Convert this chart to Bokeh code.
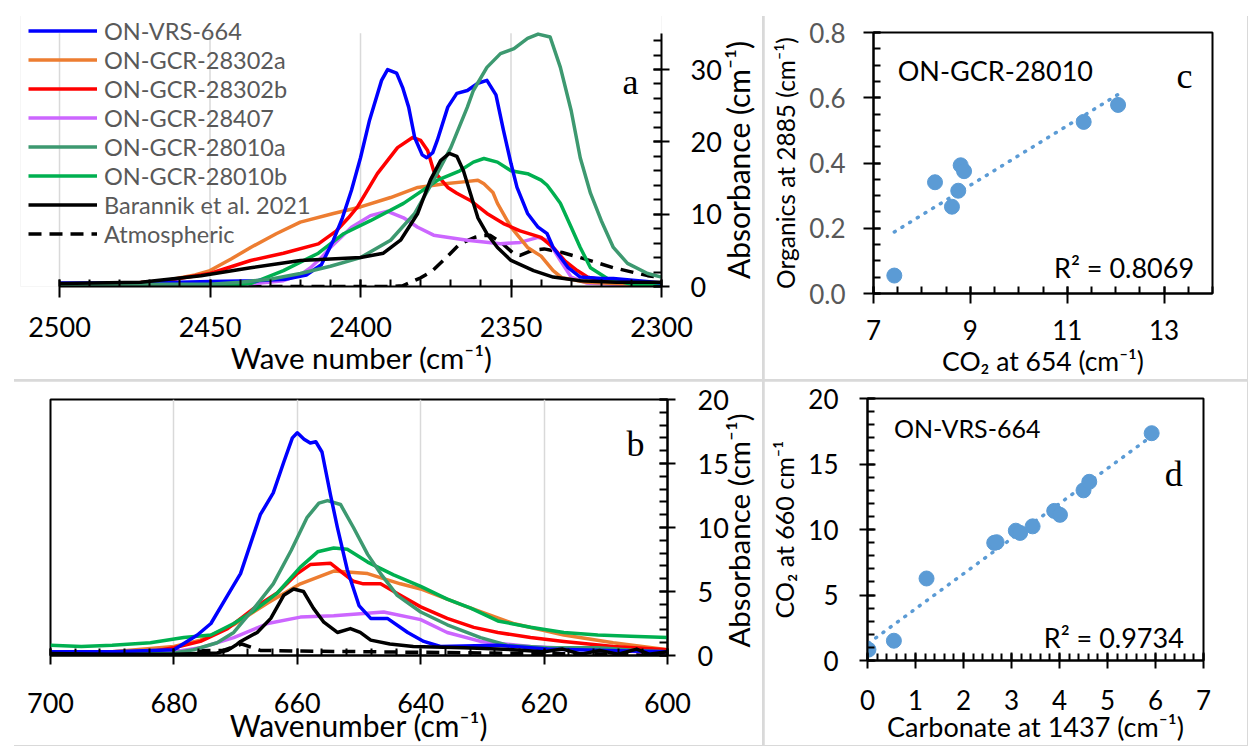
from bokeh.plotting import figure
from bokeh.models import Range1d, FixedTicker, Legend, LegendItem, Label, PrintfTickFormatter, Div
from bokeh.embed import file_html
from bokeh.resources import INLINE
import numpy as np

FONT = "Lato"
SERIF = "Liberation Serif"

# ---------------- Panel a data (wave number, absorbance) ----------------
a_blue_x = [2500, 2480, 2460, 2450, 2435, 2425, 2418, 2413, 2409, 2406, 2403, 2400, 2397, 2393, 2391, 2388, 2386, 2384, 2382, 2379.5, 2378, 2376, 2374.5, 2371, 2368, 2364.5, 2361, 2358, 2355, 2352.5, 2350, 2348, 2344.5, 2341, 2338, 2336, 2331, 2327, 2320, 2316, 2305, 2300]
a_blue_y = [0.5, 0.5, 0.6, 0.7, 0.8, 1.0, 1.6, 3.0, 6.4, 9.5, 13.3, 17.8, 23.0, 28.5, 30.0, 29.5, 27.5, 24.8, 20.6, 18.2, 17.8, 18.5, 20.2, 24.8, 26.7, 27.1, 28.1, 28.5, 26.5, 21.6, 17.0, 13.7, 10.1, 8.2, 7.3, 5.4, 2.6, 1.3, 1.1, 1.1, 0.7, 0.5]
a_orange_x = [2500, 2480, 2465, 2455, 2450, 2443, 2436.5, 2428, 2420, 2409, 2400, 2390, 2381, 2372, 2365, 2361, 2359, 2356, 2354.5, 2350, 2344.5, 2340, 2336, 2333, 2325, 2310, 2300]
a_orange_y = [0.2, 0.3, 0.8, 1.6, 2.2, 3.8, 5.4, 7.3, 8.9, 10.1, 11.0, 12.3, 13.7, 14.2, 14.5, 14.7, 14.2, 13.0, 11.5, 8.2, 5.4, 4.2, 2.2, 1.2, 0.6, 0.3, 0.2]
a_red_x = [2500, 2480, 2465, 2450, 2436.5, 2425.6, 2414, 2408, 2404, 2401, 2394.4, 2387.7, 2382.7, 2380, 2377.7, 2375.7, 2371, 2368, 2363.5, 2358, 2352.5, 2347, 2340, 2336, 2332, 2328, 2324.6, 2318, 2310, 2300]
a_red_y = [0.1, 0.3, 0.8, 1.8, 3.6, 4.6, 5.9, 7.7, 9.5, 11.0, 15.6, 19.2, 20.6, 20.2, 18.8, 16.0, 13.7, 12.9, 11.9, 10.1, 8.7, 7.7, 6.8, 5.4, 3.5, 2.2, 1.3, 0.8, 0.6, 0.4]
a_purple_x = [2500, 2470, 2450, 2435, 2425.6, 2420, 2416.6, 2413, 2410, 2403, 2396.7, 2391, 2385.7, 2381, 2375.7, 2364.5, 2353.5, 2347, 2341, 2338, 2336, 2333.6, 2330, 2325, 2310, 2300]
a_purple_y = [0.0, 0.1, 0.1, 0.4, 0.8, 1.6, 2.6, 4.0, 5.4, 8.2, 9.8, 10.4, 9.5, 8.2, 7.1, 6.4, 5.9, 6.1, 6.8, 6.4, 5.2, 3.6, 1.3, 0.5, 0.2, 0.1]
a_dkgreen_x = [2500, 2470, 2450, 2440, 2430, 2420, 2410, 2400, 2390, 2382, 2375.7, 2370, 2364.5, 2362.5, 2358, 2353.5, 2349, 2344.5, 2341, 2337, 2333.6, 2330, 2327, 2323.6, 2320, 2316, 2311.3, 2304.6, 2300]
a_dkgreen_y = [0.3, 0.3, 0.3, 0.6, 1.0, 1.8, 2.8, 4.0, 6.4, 10.1, 14.7, 19.2, 24.8, 27.1, 30.3, 32.2, 32.9, 34.3, 34.9, 34.5, 30.3, 24.3, 17.8, 12.9, 9.1, 5.4, 3.2, 1.8, 1.3]
a_green_x = [2500, 2460, 2445, 2436.5, 2425.6, 2414, 2405.6, 2396.7, 2385.7, 2374.4, 2367, 2362.5, 2359, 2354.5, 2350, 2344.5, 2340, 2338, 2336, 2333.6, 2330, 2327, 2323.6, 2318, 2310, 2300]
a_green_y = [0.1, 0.1, 0.1, 0.4, 2.2, 4.6, 7.3, 9.1, 11.5, 14.7, 16.0, 17.2, 17.7, 17.2, 16.0, 15.6, 14.7, 14.0, 12.9, 11.5, 8.2, 5.4, 2.6, 1.1, 0.3, 0.1]
a_black_x = [2500, 2473, 2453, 2436.5, 2420, 2400, 2392.4, 2386.7, 2381, 2376.8, 2373.4, 2370.5, 2368, 2365.8, 2363.5, 2361, 2358, 2354.5, 2350, 2342.5, 2336, 2327, 2315, 2300]
a_black_y = [0.4, 0.6, 1.5, 2.6, 3.6, 4.0, 4.6, 6.4, 10.1, 14.7, 17.4, 18.4, 18.0, 16.0, 12.9, 9.5, 7.3, 5.4, 3.6, 2.2, 1.3, 0.8, 0.6, 0.6]
a_atm_x = [2500, 2400, 2390, 2386, 2380, 2376, 2371, 2367, 2362, 2360, 2357, 2353, 2349, 2347, 2343, 2339, 2333, 2327, 2316, 2304.6, 2300]
a_atm_y = [0.0, 0.0, 0.0, 0.1, 1.2, 2.2, 4.2, 5.9, 6.8, 7.0, 7.1, 6.0, 4.5, 4.3, 5.0, 5.2, 4.7, 4.0, 2.6, 1.5, 1.2]
a_xticks = [2500, 2450, 2400, 2350, 2300]
a_yticks = [0, 10, 20, 30]

# ---------------- Panel b data ----------------
b_blue_x = [700, 690, 680, 676.2, 674, 671.3, 669.2, 667.6, 666, 663.9, 662.2, 660.8, 660, 658.9, 657.9, 657, 656, 654.6, 653.5, 651.9, 650, 648.1, 645.4, 642.1, 639.5, 636.8, 627.5, 619.5, 610, 600]
b_blue_y = [0.3, 0.3, 0.45, 1.6, 2.5, 4.7, 6.4, 8.7, 11.0, 12.7, 15.1, 17.0, 17.4, 16.9, 16.6, 16.7, 15.9, 12.5, 10.0, 6.7, 3.9, 2.9, 2.9, 1.8, 1.1, 0.7, 0.8, 0.5, 0.4, 0.3]
b_dkgreen_x = [700, 690, 680, 676.8, 673, 670.3, 667, 663.9, 661, 658.4, 656.5, 655.1, 653, 650.9, 648.6, 646.5, 643.8, 640, 635.7, 630.3, 626, 619.5, 611.3, 605, 600]
b_dkgreen_y = [0.1, 0.1, 0.2, 0.45, 1.0, 1.8, 3.7, 5.6, 8.2, 10.8, 11.9, 12.1, 11.8, 10.0, 7.9, 6.4, 4.7, 3.4, 2.4, 1.4, 0.8, 0.6, 0.6, 0.4, 0.3]
b_green_x = [700, 695, 690, 683.8, 678.4, 674, 670.3, 667, 663.2, 659.5, 656.7, 654.1, 651.9, 648.6, 644.4, 640, 635.7, 631.9, 627.5, 622.2, 616.8, 611.3, 606, 600]
b_green_y = [0.8, 0.7, 0.8, 1.0, 1.4, 1.6, 2.5, 3.5, 4.9, 6.9, 8.1, 8.4, 8.3, 7.3, 6.3, 5.4, 4.4, 3.7, 2.7, 2.2, 1.8, 1.6, 1.5, 1.4]
b_red_x = [700, 690, 683.8, 680, 675.7, 671.3, 667, 663.2, 660, 657.9, 654.6, 652.5, 650.9, 649.3, 646.5, 643.3, 640, 635.7, 631.4, 627.5, 622.2, 616.8, 608.8, 600]
b_red_y = [0.1, 0.2, 0.3, 0.6, 1.1, 2.1, 3.7, 4.9, 6.4, 7.1, 7.2, 6.4, 5.8, 5.6, 5.6, 4.7, 3.8, 2.9, 2.2, 1.8, 1.4, 1.1, 0.7, 0.45]
b_orange_x = [700, 690, 680, 675.7, 670.3, 664.8, 659.5, 654.1, 648.6, 643.3, 640, 633, 625, 616.8, 608.8, 600]
b_orange_y = [0.2, 0.3, 0.7, 1.2, 2.4, 4.1, 5.6, 6.6, 6.4, 5.6, 5.2, 3.9, 2.5, 1.6, 1.0, 0.45]
b_purple_x = [700, 685, 680, 675.7, 670.3, 664.8, 659.5, 654.1, 646, 640, 635.7, 630.3, 622.2, 611.3, 600]
b_purple_y = [0.0, 0.1, 0.3, 0.6, 1.4, 2.5, 3.0, 3.1, 3.4, 2.8, 1.8, 1.1, 0.7, 0.45, 0.2]
b_black_x = [700, 690, 680, 673, 671.3, 670, 669.2, 666.5, 664.3, 662.2, 660.6, 659, 657.4, 655.7, 653.5, 651.4, 649.8, 648.1, 645, 641.2, 633, 625, 620, 617, 614, 611, 608, 605, 603, 600]
b_black_y = [0.15, 0.1, 0.1, 0.2, 0.4, 0.8, 1.1, 1.8, 2.9, 4.7, 5.2, 5.0, 3.7, 2.6, 1.8, 2.1, 1.8, 1.2, 0.9, 0.7, 0.6, 0.45, 0.3, 0.5, 0.1, 0.4, 0.1, 0.5, 0.1, 0.3]
b_atm_x = [700, 690, 680, 672, 669, 666, 660, 650, 640, 630, 620, 600]
b_atm_y = [0.2, 0.3, 0.35, 0.4, 0.9, 0.4, 0.35, 0.3, 0.25, 0.2, 0.15, 0.1]
b_xticks = [700, 680, 660, 640, 620, 600]
b_yticks = [0, 5, 10, 15, 20]

series_names = ["ON-VRS-664", "ON-GCR-28302a", "ON-GCR-28302b", "ON-GCR-28407",
                "ON-GCR-28010a", "ON-GCR-28010b", "Barannik et al. 2021", "Atmospheric"]
series_colors = ["#0000ff", "#ed7d31", "#ff0000", "#cc66ff", "#3d9970", "#00b050", "#000000", "#000000"]

# ---------------- Panel c data ----------------
c_x = [7.43, 8.27, 8.62, 8.75, 8.80, 8.87, 11.34, 12.05]
c_y = [0.055, 0.341, 0.266, 0.315, 0.393, 0.375, 0.526, 0.578]
c_tag = "ON-GCR-28010"
c_r2 = "R\u00b2 = 0.8069"

# ---------------- Panel d data ----------------
d_x = [0.02, 0.55, 1.23, 2.64, 2.69, 3.09, 3.18, 3.44, 3.89, 4.01, 4.50, 4.62, 5.92]
d_y = [0.83, 1.51, 6.26, 8.98, 9.03, 9.91, 9.74, 10.24, 11.42, 11.12, 12.99, 13.64, 17.35]
d_tag = "ON-VRS-664"
d_r2 = "R\u00b2 = 0.9734"

SUP = "(cm\u207b\u00b9)"
FSP = "\u2007"   # figure space, used to nudge a centred axis title
NBSP = "\u00a0"


def place(left, top):
    return {"position": "absolute", "left": f"{left}px", "top": f"{top}px"}


def style_axis(ax, size="27px", color="black", tin=7, tout=9, mtin=7):
    ax.axis_line_width = 2
    ax.axis_line_color = "black"
    ax.major_tick_line_width = 2
    ax.minor_tick_line_width = 2
    ax.major_tick_line_color = "black"
    ax.minor_tick_line_color = "black"
    ax.major_tick_in = tin
    ax.major_tick_out = tout
    ax.minor_tick_in = mtin
    ax.minor_tick_out = 0
    ax.major_label_text_font = FONT
    ax.major_label_text_font_size = size
    ax.major_label_text_color = color
    ax.axis_label_text_font = FONT
    ax.axis_label_text_font_style = "normal"
    ax.axis_label_text_color = "black"


def spectra_fig(w, h, xr, yr, borders, pos):
    p = figure(width=w, height=h, x_range=xr, y_range=yr, y_axis_location="right",
               output_backend="svg", toolbar_location=None, title=None,
               min_border_left=borders[0], min_border_right=borders[1],
               min_border_top=borders[2], min_border_bottom=borders[3],
               styles=place(*pos))
    p.background_fill_color = "white"
    p.border_fill_color = "white"
    p.ygrid.visible = False
    p.xgrid.grid_line_color = "#d9d9d9"
    p.xgrid.grid_line_width = 1.5
    return p


def side_title(text, size, pos, w, h, mtop, mbottom):
    # transparent strip whose left-hand axis carries a title reading upwards,
    # laid over the right-hand side of a spectra panel
    p = figure(width=w, height=h, x_range=Range1d(0, 1), y_range=Range1d(0, 1),
               output_backend="svg", toolbar_location=None, title=None,
               min_border_left=w - 7, min_border_right=0,
               min_border_top=mtop, min_border_bottom=mbottom, styles=place(*pos))
    p.xaxis.visible = False
    p.grid.visible = False
    p.outline_line_color = None
    p.background_fill_alpha = 0
    p.border_fill_alpha = 0
    ax = p.yaxis[0]
    ax.ticker = FixedTicker(ticks=[])
    ax.axis_line_color = None
    ax.major_tick_line_color = None
    ax.minor_tick_line_color = None
    ax.major_tick_in = 0
    ax.major_tick_out = 0
    ax.minor_tick_in = 0
    ax.minor_tick_out = 0
    ax.major_label_text_font_size = "0px"
    ax.major_label_standoff = 0
    ax.axis_label = text
    ax.axis_label_text_font = FONT
    ax.axis_label_text_font_style = "normal"
    ax.axis_label_text_font_size = size
    ax.axis_label_text_color = "black"
    ax.axis_label_standoff = 0
    return p


# ================= Panel a =================
# frame widened to the left/top so the legend (which sits left of 2500) is not clipped;
# axis bounds keep the visible axes at 2500-2300 and 0-35
pa = spectra_fig(751, 366, Range1d(2512.96, 2300), Range1d(0, 37.47), (9, 101, 2, 93), (11, 13))
pa.outline_line_color = None
pa.xgrid.visible = False
pa.segment(x0=a_xticks, y0=[0] * len(a_xticks), x1=a_xticks, y1=[35] * len(a_xticks),
           line_color="#d9d9d9", line_width=1.5)
pa.xaxis.ticker = FixedTicker(ticks=a_xticks, minor_ticks=list(range(2300, 2501, 10)))
pa.xaxis.bounds = (2300, 2500)
pa.yaxis.ticker = FixedTicker(ticks=a_yticks, minor_ticks=list(range(0, 36, 2)))
pa.yaxis.bounds = (0, 35)
style_axis(pa.xaxis[0], tin=7, tout=11)
style_axis(pa.yaxis[0], tin=8, tout=8, mtin=8)
pa.xaxis.axis_label = FSP + FSP + NBSP + "Wave number " + SUP
pa.xaxis.axis_label_text_font_size = "29.5px"
pa.xaxis.major_label_standoff = 19
pa.xaxis.axis_label_standoff = 0
pa.yaxis.major_label_standoff = 21

a_data = [(a_blue_x, a_blue_y), (a_orange_x, a_orange_y), (a_red_x, a_red_y), (a_purple_x, a_purple_y),
          (a_dkgreen_x, a_dkgreen_y), (a_green_x, a_green_y), (a_black_x, a_black_y), (a_atm_x, a_atm_y)]
order = [7, 3, 1, 2, 5, 0, 4, 6]
rends = {}
for i in order:
    xs, ys = a_data[i]
    dash = "13 8" if i == 7 else "solid"
    rends[i] = pa.line(xs, ys, line_color=series_colors[i], line_width=3.5, line_dash=dash, line_join="round")

legend = Legend(items=[LegendItem(label=series_names[i], renderers=[rends[i]]) for i in range(8)],
                location=(8, 38), orientation="vertical")
legend.label_text_font = FONT
legend.label_text_font_size = "23.5px"
legend.label_text_color = "#595959"
legend.glyph_width = 69
legend.glyph_height = 29
legend.label_height = 29
legend.spacing = 0
legend.padding = 0
legend.margin = 0
legend.label_standoff = 7
legend.border_line_color = None
legend.background_fill_alpha = 0
pa.add_layout(legend)
pa.add_layout(Label(x=2310.3, y=28.3, text="a", text_font=SERIF, text_font_size="36px",
                    text_align="center", text_baseline="alphabetic", text_color="black"))
ta = side_title("Absorbance " + SUP, "30px", (712, 13), 50, 366, 20, 93)

# ================= Panel b =================
pb = spectra_fig(751, 364, Range1d(700, 600), Range1d(0, 20), (39, 95, 18, 84), (11, 381))
pb.outline_line_color = "black"
pb.outline_line_width = 2
xt_b = FixedTicker(ticks=b_xticks, minor_ticks=list(range(600, 701, 4)))
pb.xaxis.ticker = xt_b
pb.xgrid.ticker = xt_b
pb.yaxis.ticker = FixedTicker(ticks=b_yticks, minor_ticks=list(range(0, 21, 1)))
style_axis(pb.xaxis[0], tin=7, tout=9)
style_axis(pb.yaxis[0], tin=8, tout=8, mtin=8)
pb.xaxis.axis_label = "Wavenumber " + SUP
pb.xaxis.axis_label_text_font_size = "30px"
pb.xaxis.major_label_standoff = 28
pb.xaxis.axis_label_standoff = -9
pb.yaxis.major_label_standoff = 22

b_data = [(b_blue_x, b_blue_y), (b_orange_x, b_orange_y), (b_red_x, b_red_y), (b_purple_x, b_purple_y),
          (b_dkgreen_x, b_dkgreen_y), (b_green_x, b_green_y), (b_black_x, b_black_y), (b_atm_x, b_atm_y)]
for i in [7, 3, 1, 2, 5, 4, 0, 6]:
    xs, ys = b_data[i]
    dash = "13 8" if i == 7 else "solid"
    pb.line(xs, ys, line_color=series_colors[i], line_width=3.5, line_dash=dash, line_join="round")
pb.add_layout(Label(x=605.2, y=16.5, text="b", text_font=SERIF, text_font_size="36px",
                    text_align="center", text_baseline="alphabetic", text_color="black"))
tb = side_title("Absorbance " + SUP, "29.5px", (712, 381), 50, 364, 18, 84)


# ================= scatter panels =================
def scatter_fig(w, h, xr, yr, borders, pos):
    p = figure(width=w, height=h, x_range=xr, y_range=yr,
               output_backend="svg", toolbar_location=None, title=None,
               min_border_left=borders[0], min_border_right=borders[1],
               min_border_top=borders[2], min_border_bottom=borders[3],
               styles=place(*pos))
    p.grid.visible = False
    p.outline_line_color = "black"
    p.outline_line_width = 2
    p.background_fill_color = "white"
    p.border_fill_color = "white"
    return p


pc = scatter_fig(483, 366, Range1d(7, 14), Range1d(0, 0.8), (109, 35, 19, 85), (764, 13))
pc.xaxis.ticker = FixedTicker(ticks=[7, 9, 11, 13], minor_ticks=list(np.arange(7, 14.01, 0.5)))
pc.yaxis.ticker = FixedTicker(ticks=[0, 0.2, 0.4, 0.6, 0.8], minor_ticks=list(np.arange(0, 0.801, 0.05)))
pc.yaxis.formatter = PrintfTickFormatter(format="%.1f")
style_axis(pc.xaxis[0], size="26px", tin=7, tout=10)
style_axis(pc.yaxis[0], size="26px", color="#595959", tin=7, tout=10)
pc.xaxis.axis_label = "CO\u2082 at 654 " + SUP
pc.yaxis.axis_label = "Organics at 2885 " + SUP
pc.xaxis.axis_label_text_font_size = "26.5px"
pc.yaxis.axis_label_text_font_size = "24.5px"
pc.xaxis.major_label_standoff = 16
pc.xaxis.axis_label_standoff = 2
pc.yaxis.major_label_standoff = 18
pc.yaxis.axis_label_standoff = 6
cx = np.array(c_x)
cy = np.array(c_y)
kc = np.polyfit(cx, cy, 1)
tcx = np.array([cx.min(), cx.max()])
pc.line(tcx, np.polyval(kc, tcx), line_color="#5b9bd5", line_width=3.5, line_dash="1 8", line_cap="round")
pc.scatter(c_x, c_y, size=15, color="#5b9bd5")
pc.add_layout(Label(x=7.5, y=0.683, text=c_tag, text_font=FONT, text_font_size="27px",
                    text_align="left", text_baseline="alphabetic", text_color="black"))
pc.add_layout(Label(x=13.62, y=0.08, text=c_r2, text_font=FONT, text_font_size="27px",
                    text_align="right", text_baseline="alphabetic", text_color="black"))
pc.add_layout(Label(x=13.42, y=0.668, text="c", text_font=SERIF, text_font_size="36px",
                    text_align="center", text_baseline="alphabetic", text_color="black"))

pd_ = scatter_fig(483, 364, Range1d(0, 7), Range1d(0, 20), (103, 44, 17, 82), (764, 381))
pd_.xaxis.ticker = FixedTicker(ticks=list(range(0, 8)), minor_ticks=list(np.arange(0, 7.01, 0.2)))
pd_.yaxis.ticker = FixedTicker(ticks=[0, 5, 10, 15, 20], minor_ticks=list(range(0, 21)))
style_axis(pd_.xaxis[0], size="26px", tin=8, tout=8)
style_axis(pd_.yaxis[0], size="26px", tin=8, tout=8)
pd_.xaxis.axis_label = "Carbonate at 1437 " + SUP
pd_.yaxis.axis_label = "CO\u2082 at 660 cm\u207b\u00b9"
pd_.xaxis.axis_label_text_font_size = "27px"
pd_.yaxis.axis_label_text_font_size = "25px"
pd_.xaxis.major_label_standoff = 21
pd_.xaxis.axis_label_standoff = -3
pd_.yaxis.major_label_standoff = 21
pd_.yaxis.axis_label_standoff = 6
dx = np.array(d_x)
dy = np.array(d_y)
kd = np.polyfit(dx, dy, 1)
tdx = np.array([dx.min(), dx.max()])
pd_.line(tdx, np.polyval(kd, tdx), line_color="#5b9bd5", line_width=3.5, line_dash="1 8", line_cap="round")
pd_.scatter(d_x, d_y, size=15, color="#5b9bd5")
pd_.add_layout(Label(x=0.55, y=17.78, text=d_tag, text_font=FONT, text_font_size="25px",
                     text_align="left", text_baseline="alphabetic", text_color="black"))
pd_.add_layout(Label(x=6.59, y=1.72, text=d_r2, text_font=FONT, text_font_size="27px",
                     text_align="right", text_baseline="alphabetic", text_color="black"))
pd_.add_layout(Label(x=6.38, y=14.27, text="d", text_font=SERIF, text_font_size="36px",
                     text_align="center", text_baseline="alphabetic", text_color="black"))

# light-grey backing that shows through the gaps between the four panels
backing = Div(text="", width=1238, height=734,
              styles={"position": "absolute", "left": "9px", "top": "11px",
                      "background-color": "#d9d9d9"})

open("out.html", "w").write(file_html([backing, pa, pc, pb, pd_, ta, tb], INLINE))
